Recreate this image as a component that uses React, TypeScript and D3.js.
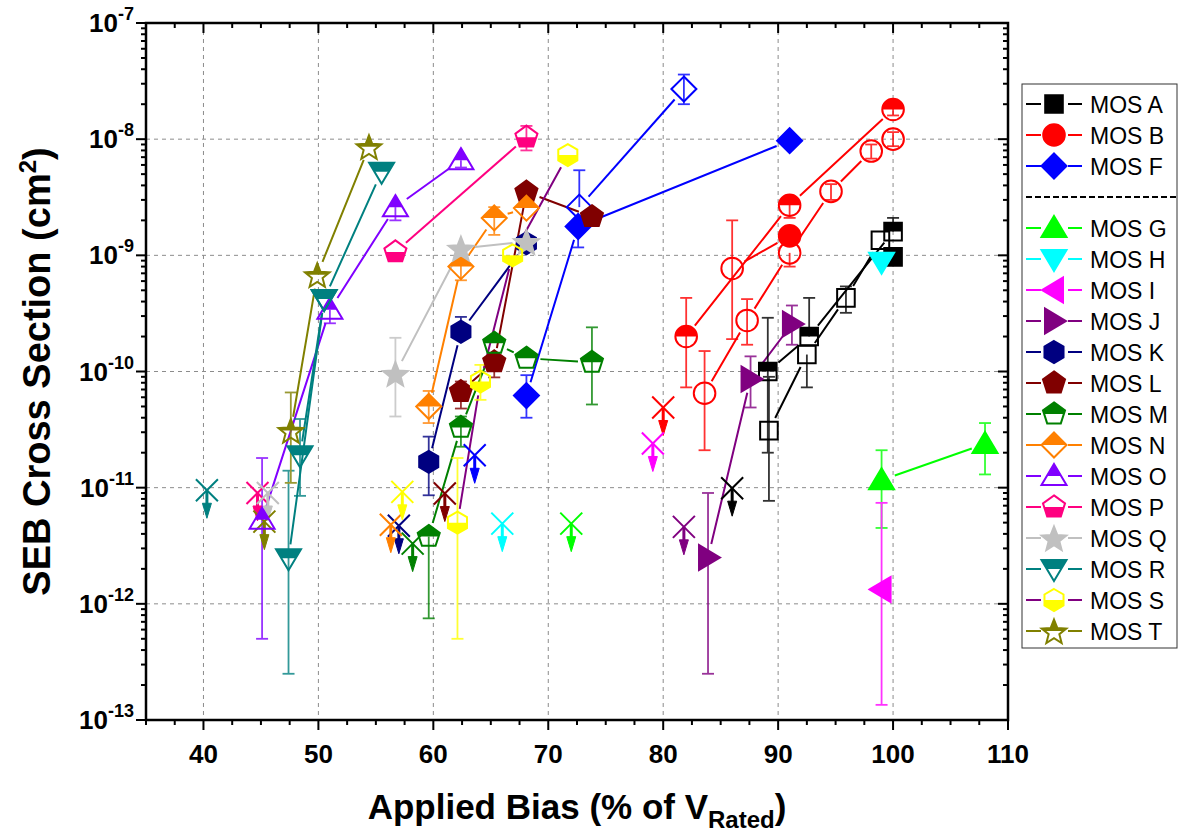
import React from "react";
import * as d3 from "d3";

// [bias %, cross section (cm^2), error low, error high]
type Row = (number | null)[];

const mosA_top: Row[] = [[89.1, 1.0e-10, 2.0e-11, 2.9e-10], [92.7, 2.0e-10, null, 4.3e-10], [100, 1.6e-9, null, 2.1e-9]];
const mosA_full: Row[] = [[100, 9.7e-10, null, null]];
const mosA_open: Row[] = [[89.2, 3.1e-11, 7.7e-12, 9.0e-11], [92.5, 1.4e-10, 7.3e-11, null], [95.9, 4.3e-10, 3.2e-10, 5.4e-10], [98.9, 1.35e-9, null, null]];
const mosA_lim: Row[] = [[86.0, 9.9e-12]];

const mosB_top: Row[] = [[82.0, 2.0e-10, 7.3e-11, 4.3e-10], [91.0, 2.7e-9, 2.1e-9, 3.2e-9], [100, 1.8e-8, 1.6e-8, 2.0e-8]];
const mosB_cross: Row[] = [[86.0, 7.7e-10, 1.9e-10, 2.0e-9], [91.0, 1.47e-9, null, null]];
const mosB_open: Row[] = [[83.6, 6.5e-11, 2.1e-11, 1.5e-10], [87.3, 2.75e-10, 1.7e-10, 4.2e-10], [91.0, 1.05e-9, 8.0e-10, null], [94.6, 3.55e-9, 3.0e-9, 4.1e-9], [98.1, 7.9e-9, 6.8e-9, 9.0e-9], [100, 1.0e-8, 8.7e-9, 1.15e-8]];
const mosB_lim: Row[] = [[80.0, 4.9e-11]];

const mosF_full: Row[] = [[68.1, 6.2e-11, 4.0e-11, 9.3e-11], [72.6, 1.77e-9, 1.17e-9, null], [91.0, 9.7e-9, null, null]];
const mosF_open: Row[] = [[72.7, 2.6e-9, null, 5.4e-9], [81.8, 2.7e-8, 2.0e-8, 3.6e-8]];
const mosF_lim: Row[] = [[63.6, 1.9e-11]];

const mosG: Row[] = [[99.0, 1.16e-11, 4.5e-12, 2.1e-11], [108.0, 2.38e-11, 1.3e-11, 3.6e-11]];
const mosG_lim: Row[] = [[72.0, 4.9e-12]];
const mosH: Row[] = [[99.0, 8.8e-10, null, null]];
const mosH_lim: Row[] = [[66.0, 4.9e-12]];
const mosI: Row[] = [[99.0, 1.33e-12, 1.35e-13, 7.4e-12]];
const mosI_lim: Row[] = [[79.1, 2.4e-11]];
const mosJ: Row[] = [[83.9, 2.5e-12, 2.5e-13, 9.0e-12], [87.6, 8.6e-11, 4.9e-11, 1.35e-10], [91.2, 2.56e-10, 1.7e-10, 3.7e-10]];
const mosJ_lim: Row[] = [[81.8, 4.6e-12]];
const mosK: Row[] = [[59.6, 1.67e-11, 8.6e-12, 2.75e-11], [62.4, 2.2e-10, null, 2.95e-10], [68.1, 1.27e-9, null, null]];
const mosK_lim: Row[] = [[57.0, 4.7e-12]];
const mosL: Row[] = [[62.4, 6.7e-11, 4.8e-11, 8.2e-11], [65.3, 1.21e-10, 8.9e-11, null], [68.1, 3.5e-9, null, null], [73.8, 2.15e-9, null, null]];
const mosL_lim: Row[] = [[61.0, 8.9e-12]];
const mosM_top: Row[] = [[59.6, 3.8e-12, 7.5e-13, null], [62.4, 3.3e-11, 2.25e-11, 4.1e-11], [65.3, 1.75e-10, null, null], [68.1, 1.3e-10, null, null], [73.8, 1.2e-10, 5.2e-11, 2.4e-10]];
const mosM_lim: Row[] = [[58.2, 3.3e-12]];
const mosN_top: Row[] = [[59.6, 5.0e-11, 3.6e-11, 6.8e-11], [62.4, 8.0e-10, 6.1e-10, 9.4e-10], [65.3, 2.1e-9, 1.5e-9, 2.6e-9], [68.1, 2.55e-9, null, null]];
const mosN_lim: Row[] = [[56.3, 4.8e-12]];
const mosO_top: Row[] = [[45.1, 5.3e-12, 5.0e-13, 1.8e-11], [51.0, 3.4e-10, 2.6e-10, null], [56.7, 2.6e-9, 2.0e-9, null], [62.4, 6.6e-9, 5.7e-9, null]];
const mosP_bot: Row[] = [[56.7, 1.07e-9, null, null], [68.1, 1.04e-8, 8.0e-9, 1.3e-8]];
const mosP_lim: Row[] = [[44.7, 9.0e-12]];
const mosQ: Row[] = [[56.7, 9.6e-11, 4.1e-11, 1.95e-10], [62.4, 1.15e-9, null, null], [68.1, 1.31e-9, null, null]];
const mosQ_lim: Row[] = [[45.6, 9.0e-12]];
const mosR_top: Row[] = [[47.4, 2.47e-12, 2.5e-13, 1.4e-11], [50.5, 4.2e-10, null, null], [55.5, 5.25e-9, null, null]];
const mosR_top2: Row[] = [[48.4, 1.9e-11, 8.5e-12, 3.9e-11], [50.5, 4.2e-10, null, null]];
const mosR_lim: Row[] = [[40.3, 9.5e-12]];
const mosS_bot: Row[] = [[62.1, 5.0e-12, 5.0e-13, 1.8e-11], [64.1, 8.2e-11, 5.7e-11, 1.14e-10], [66.9, 1.0e-9, null, null], [71.7, 7.3e-9, null, null]];
const mosS_lim: Row[] = [[57.3, 9.2e-12]];
const mosT_top: Row[] = [[47.6, 3.1e-11, 1.1e-11, 6.6e-11], [49.9, 6.8e-10, null, null], [54.4, 8.6e-9, null, null]];
const mosT_lim: Row[] = [[45.3, 5.1e-12]];

const xTicks = [40, 50, 60, 70, 80, 90, 100, 110];
const yExps = [-7, -8, -9, -10, -11, -12, -13];

type Group = { data: Row[]; fill: string | string[] };
type Series = { name: string; color: string; line?: string; shape: string; legendFill: string; groups: Group[]; limits: Row[] };

const series: Series[] = [
  { name: "MOS A", color: "#000000", shape: "square", legendFill: "full", groups: [{ data: mosA_open, fill: "open" }, { data: mosA_top, fill: "top" }, { data: mosA_full, fill: "full" }], limits: mosA_lim },
  { name: "MOS B", color: "#FF0000", shape: "circle", legendFill: "full", groups: [{ data: mosB_open, fill: "open" }, { data: mosB_cross, fill: ["open", "full"] }, { data: mosB_top, fill: "top" }], limits: mosB_lim },
  { name: "MOS F", color: "#0000FF", shape: "diamond", legendFill: "full", groups: [{ data: mosF_open, fill: "open" }, { data: mosF_full, fill: "full" }], limits: mosF_lim },
  { name: "MOS G", color: "#00FF00", shape: "up", legendFill: "full", groups: [{ data: mosG, fill: "full" }], limits: mosG_lim },
  { name: "MOS H", color: "#00FFFF", shape: "down", legendFill: "full", groups: [{ data: mosH, fill: "full" }], limits: mosH_lim },
  { name: "MOS I", color: "#FF00FF", shape: "left", legendFill: "full", groups: [{ data: mosI, fill: "full" }], limits: mosI_lim },
  { name: "MOS J", color: "#800080", shape: "right", legendFill: "full", groups: [{ data: mosJ, fill: "full" }], limits: mosJ_lim },
  { name: "MOS K", color: "#000080", shape: "hexagon", legendFill: "full", groups: [{ data: mosK, fill: "full" }], limits: mosK_lim },
  { name: "MOS L", color: "#800000", shape: "pentagon", legendFill: "full", groups: [{ data: mosL, fill: "full" }], limits: mosL_lim },
  { name: "MOS M", color: "#008000", shape: "pentagon", legendFill: "top", groups: [{ data: mosM_top, fill: "top" }], limits: mosM_lim },
  { name: "MOS N", color: "#FF8000", shape: "diamond", legendFill: "top", groups: [{ data: mosN_top, fill: "top" }], limits: mosN_lim },
  { name: "MOS O", color: "#8000FF", shape: "up", legendFill: "top", groups: [{ data: mosO_top, fill: "top" }], limits: [] },
  { name: "MOS P", color: "#FF0080", shape: "pentagon", legendFill: "bottom", groups: [{ data: mosP_bot, fill: "bottom" }], limits: mosP_lim },
  { name: "MOS Q", color: "#C0C0C0", shape: "star", legendFill: "full", groups: [{ data: mosQ, fill: "full" }], limits: mosQ_lim },
  { name: "MOS R", color: "#008080", shape: "down", legendFill: "top", groups: [{ data: mosR_top, fill: "top" }, { data: mosR_top2, fill: "top" }], limits: mosR_lim },
  { name: "MOS S", color: "#FFFF00", line: "#800080", shape: "hexagon", legendFill: "bottom", groups: [{ data: mosS_bot, fill: "bottom" }], limits: mosS_lim },
  { name: "MOS T", color: "#808000", shape: "star", legendFill: "top", groups: [{ data: mosT_top, fill: "top" }], limits: mosT_lim },
];

const W = 1181, H = 833;
const L = 146, R = 1008, T = 23, B = 720;
const x = d3.scaleLinear().domain([35, 110]).range([L, R]);
const y = d3.scaleLog().domain([1e-13, 1e-7]).range([B, T]);
const FONT = "'Liberation Sans', Arial, sans-serif";

const poly = (pts: number[][]) => "M" + pts.map((p) => p[0].toFixed(2) + "," + p[1].toFixed(2)).join("L") + "Z";
const regular = (n: number, r: number, rot: number) =>
  d3.range(n).map((i) => [r * Math.cos(rot + (i * 2 * Math.PI) / n), r * Math.sin(rot + (i * 2 * Math.PI) / n)]);

function shapePath(shape: string): string {
  switch (shape) {
    case "square": return "M-8.8,-8.8H8.8V8.8H-8.8Z";
    case "circle": return "M-10.8,0A10.8,10.8 0 1,0 10.8,0A10.8,10.8 0 1,0 -10.8,0Z";
    case "diamond": return poly([[0, -12.5], [12.5, 0], [0, 12.5], [-12.5, 0]]);
    case "up": return poly([[0, -12], [12.5, 9], [-12.5, 9]]);
    case "down": return poly([[0, 12], [12.5, -9], [-12.5, -9]]);
    case "left": return poly([[-12, 0], [9, -12.5], [9, 12.5]]);
    case "right": return poly([[12, 0], [-9, -12.5], [-9, 12.5]]);
    case "hexagon": return poly(regular(6, 11, -Math.PI / 2));
    case "pentagon": return poly(regular(5, 11.6, -Math.PI / 2));
    case "star": {
      const pts = d3.range(10).map((i) => {
        const r = i % 2 === 0 ? 13 : 5.6;
        const a = -Math.PI / 2 + (i * Math.PI) / 5;
        return [r * Math.cos(a), r * Math.sin(a) + 1.5];
      });
      return poly(pts);
    }
  }
  return "";
}

function Marker({ cx, cy, shape, color, fill }: { cx: number; cy: number; shape: string; color: string; fill: string }) {
  const d = shapePath(shape);
  return (
    <g transform={`translate(${cx},${cy})`}>
      {fill === "full" && <path d={d} fill={color} stroke={color} strokeWidth={2} strokeLinejoin="miter" />}
      {(fill === "top" || fill === "bottom") && <path d={d} fill={color} clipPath={`url(#clip-${fill})`} />}
      {fill !== "full" && <path d={d} fill="none" stroke={color} strokeWidth={2} />}
    </g>
  );
}

function LimitMark({ cx, cy, color }: { cx: number; cy: number; color: string }) {
  return (
    <g transform={`translate(${cx},${cy})`}>
      <path d="M-11,-11L11,11M-11,11L11,-11" stroke={color} strokeWidth={2} fill="none" />
      <line x1={0} y1={0} x2={0} y2={15} stroke={color} strokeWidth={3} />
      <path d="M-4.5,13L4.5,13L0,28Z" fill={color} stroke={color} strokeWidth={1} />
    </g>
  );
}

// connecting segments stop short of the markers
function gapped(pts: number[][], gap: number): string {
  let d = "";
  for (let i = 0; i < pts.length - 1; i++) {
    const [x1, y1] = pts[i], [x2, y2] = pts[i + 1];
    const len = Math.hypot(x2 - x1, y2 - y1);
    if (len <= gap * 2 + 2) continue;
    const ux = (x2 - x1) / len, uy = (y2 - y1) / len;
    d += `M${x1 + ux * gap},${y1 + uy * gap}L${x2 - ux * gap},${y2 - uy * gap}`;
  }
  return d;
}

const fillAt = (g: Group, i: number) => (Array.isArray(g.fill) ? g.fill[i] : g.fill);

export default function App() {
  const minorX = d3.range(35, 110.01, 2.5);
  const yMinor: number[] = [];
  for (let e = -13; e < -7; e++) for (let m = 2; m <= 9; m++) yMinor.push(m * Math.pow(10, e));

  const legendRows: { s: Series | null; yy: number }[] = [];
  let ly = 104;
  series.forEach((s, i) => {
    legendRows.push({ s, yy: ly });
    ly += 31;
    if (i === 2) {
      legendRows.push({ s: null, yy: ly });
      ly += 31;
    }
  });

  return (
    <svg width={W} height={H} style={{ position: "absolute", left: 0, top: 0, background: "#fff" }} fontFamily={FONT}>
      <defs>
        <clipPath id="clip-top" clipPathUnits="userSpaceOnUse"><rect x={-20} y={-20} width={40} height={20} /></clipPath>
        <clipPath id="clip-bottom" clipPathUnits="userSpaceOnUse"><rect x={-20} y={0} width={40} height={20} /></clipPath>
      </defs>
      <rect width={W} height={H} fill="#fff" />

      {/* grid */}
      <g stroke="#8c8c8c" strokeWidth={1} strokeDasharray="4,4">
        {xTicks.filter((v) => v < 110).map((v) => <line key={v} x1={x(v)} x2={x(v)} y1={T} y2={B} />)}
        {yExps.filter((e) => e < -7 && e > -13).map((e) => <line key={e} x1={L} x2={R} y1={y(Math.pow(10, e))} y2={y(Math.pow(10, e))} />)}
      </g>

      {/* connecting lines */}
      <g fill="none" strokeWidth={2}>
        {series.map((s) => s.groups.map((g, gi) => (
          <path key={s.name + gi} d={gapped(g.data.map((r) => [x(r[0] as number), y(r[1] as number)]), 14)} stroke={s.line || s.color} />
        )))}
      </g>

      {/* error bars */}
      <g strokeWidth={1.8} opacity={0.8}>
        {series.map((s) => s.groups.map((g, gi) => g.data.map((r, i) => {
          const cx = x(r[0] as number), v = r[1] as number;
          const lo = r[2], hi = r[3];
          if (lo == null && hi == null) return null;
          const y1 = y(hi ?? v), y2 = y(lo ?? v);
          return (
            <g key={`${s.name}-${gi}-${i}`} stroke={s.color}>
              <line x1={cx} x2={cx} y1={y1} y2={y2} />
              {hi != null && <line x1={cx - 6} x2={cx + 6} y1={y1} y2={y1} />}
              {lo != null && <line x1={cx - 6} x2={cx + 6} y1={y2} y2={y2} />}
            </g>
          );
        })))}
      </g>

      {/* upper limits (no events) */}
      {series.map((s) => s.limits.map((r, i) => (
        <LimitMark key={s.name + "lim" + i} cx={x(r[0] as number)} cy={y(r[1] as number)} color={s.color} />
      )))}

      {/* markers */}
      {series.map((s) => s.groups.map((g, gi) => g.data.map((r, i) => (
        <Marker key={`${s.name}m${gi}-${i}`} cx={x(r[0] as number)} cy={y(r[1] as number)} shape={s.shape} color={s.color} fill={fillAt(g, i)} />
      ))))}

      {/* axes frame and ticks */}
      <g stroke="#000" strokeWidth={2}>
        {minorX.map((v) => {
          const major = Math.abs(v % 10) < 1e-6;
          const len = major ? 10 : 5;
          return (
            <g key={"xt" + v}>
              <line x1={x(v)} x2={x(v)} y1={B} y2={B + len} />
              <line x1={x(v)} x2={x(v)} y1={T} y2={T + len} />
            </g>
          );
        })}
        {yExps.map((e) => (
          <g key={"ym" + e}>
            <line x1={L - 10} x2={L} y1={y(Math.pow(10, e))} y2={y(Math.pow(10, e))} />
            <line x1={R - 10} x2={R} y1={y(Math.pow(10, e))} y2={y(Math.pow(10, e))} />
          </g>
        ))}
        {yMinor.map((v, i) => (
          <g key={"yn" + i}>
            <line x1={L - 5} x2={L} y1={y(v)} y2={y(v)} />
            <line x1={R - 5} x2={R} y1={y(v)} y2={y(v)} />
          </g>
        ))}
      </g>
      <rect x={L} y={T} width={R - L} height={B - T} fill="none" stroke="#000" strokeWidth={2.5} />

      {/* tick labels */}
      <g fontWeight="bold" fontSize={26} fill="#000">
        {xTicks.map((v) => (
          <text key={"xl" + v} x={x(v)} y={763} textAnchor="middle">{v}</text>
        ))}
        {yExps.map((e) => (
          <text key={"yl" + e} x={134} y={y(Math.pow(10, e)) + 9} textAnchor="end">
            10<tspan fontSize={18} dy={-12}>{e}</tspan>
          </text>
        ))}
      </g>

      {/* axis titles */}
      <text x={(L + R) / 2} y={819} textAnchor="middle" fontWeight="bold" fontSize={35}>
        Applied Bias (% of V<tspan fontSize={24} dy={9}>Rated</tspan><tspan dy={-9}>)</tspan>
      </text>
      <text transform={`translate(50,${(T + B) / 2}) rotate(-90)`} textAnchor="middle" fontWeight="bold" fontSize={38}>
        SEB Cross Section (cm<tspan fontSize={24} dy={-14}>2</tspan><tspan dy={14}>)</tspan>
      </text>

      {/* legend */}
      <rect x={1022} y={84} width={155} height={564} fill="#fff" stroke="#333" strokeWidth={1} />
      {legendRows.map(({ s, yy }, i) =>
        s ? (
          <g key={"lg" + i}>
            <line x1={1026} x2={1041} y1={yy} y2={yy} stroke={s.line || s.color} strokeWidth={2} />
            <line x1={1068} x2={1082} y1={yy} y2={yy} stroke={s.line || s.color} strokeWidth={2} />
            <Marker cx={1054} cy={yy} shape={s.shape} color={s.color} fill={s.legendFill} />
            <text x={1090} y={yy + 8.5} fontSize={23}>{s.name}</text>
          </g>
        ) : (
          <line key={"sep"} x1={1026} x2={1176} y1={yy} y2={yy} stroke="#000" strokeWidth={2} strokeDasharray="6,3" />
        )
      )}
    </svg>
  );
}
